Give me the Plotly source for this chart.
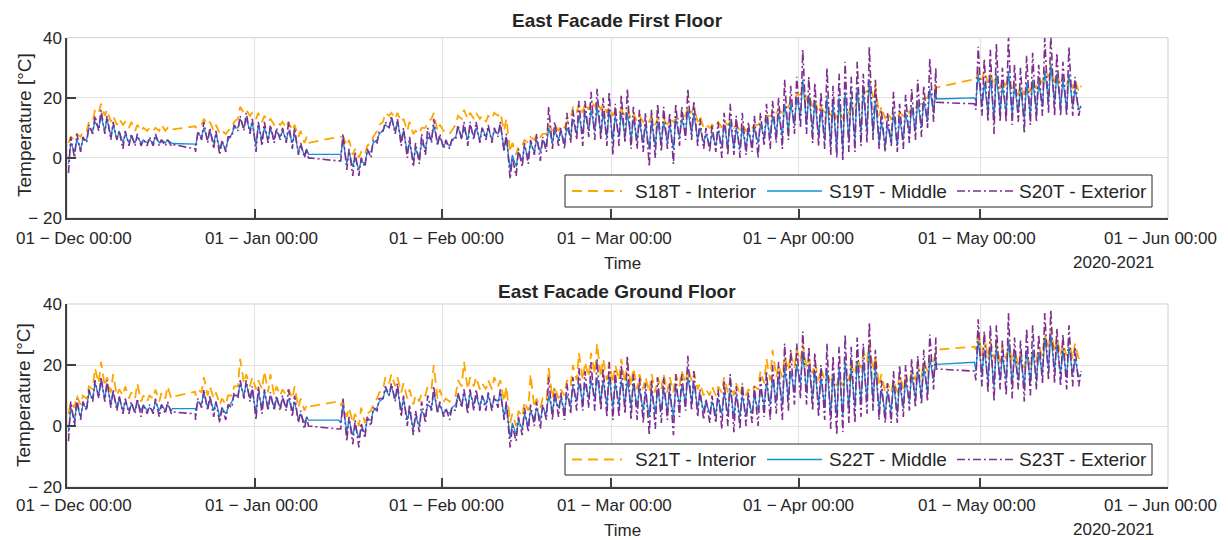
import datetime as dt
import plotly.graph_objects as go

START = dt.datetime(2020, 12, 1)
N = None

# ---------------- East Facade First Floor (daily low / high, deg C) ----------------
TOP_EXT_LO = [-5, 0, 2, 5, 8, 9, 8, 6, 6, 3,
              4, 4, 4, 4, 4, 4, 4, 4, N, N,
              N, 2, 6, 5, 3, 1, 2, 7, 9, 9,
              8, 2, 4, 5, 5, 6, 5, 3, 1, 0,
              N, N, N, N, N, -1, -4, -6, -6, -3,
              0, 5, 9, 10, 8, 4, 0, -3, -2, 1,
              5, 4, 3, 3, 6, 6, 4, 6, 5, 6,
              5, 7, 2, -7, -6, -3, -2, 1, -1, 2,
              3, 4, 3, 5, 6, 4, 7, 6, 6, 4,
              1, 4, 5, 3, 3, 2, -3, 0, 2, 3,
              -2, 4, 6, 6, 4, 3, 2, 2, 0, 1,
              1, 0, 1, 2, 0, 4, 3, 5, 3, 6,
              8, 10, 8, 5, 4, 3, 1, 0, -1, 2,
              2, 4, 5, 6, 3, 2, 4, 2, 3, 5,
              6, 7, 10, 12, N, N, N, N, N, N,
              16, 14, 12, 8, 12, 12, 11, 12, 8, 11,
              12, 14, 15, 14, 14, 14, 14, 14]
TOP_EXT_HI = [7, 8, 7, 11, 14, 16, 14, 12, 9, 9,
              8, 8, 6, 7, 8, 6, 6, 6, N, N,
              N, 9, 12, 10, 9, 6, 7, 11, 14, 15,
              13, 12, 12, 11, 10, 10, 12, 10, 5, 3,
              N, N, N, N, N, 8, 3, 2, 0, 3,
              6, 9, 12, 14, 13, 10, 7, 5, 8, 10,
              13, 8, 6, 6, 11, 12, 12, 12, 10, 11,
              10, 12, 8, 0, 3, 5, 6, 8, 7, 17,
              12, 10, 15, 16, 19, 19, 22, 23, 20, 22,
              18, 21, 23, 17, 16, 15, 16, 18, 17, 15,
              18, 17, 23, 19, 13, 10, 11, 12, 15, 18,
              14, 15, 12, 14, 15, 18, 19, 20, 26, 24,
              27, 36, 27, 25, 22, 30, 24, 28, 32, 27,
              32, 28, 37, 26, 16, 15, 22, 18, 21, 23,
              26, 24, 33, 30, N, N, N, N, N, N,
              37, 33, 36, 38, 30, 41, 31, 30, 34, 35,
              31, 40, 41, 35, 32, 37, 27, 18]
TOP_MID_LO = [-2, 2, 3, 6, 9, 10, 9, 7, 6, 5,
              5, 5, 5, 5, 5, 5, 5, 5, N, N,
              N, 4, 7, 6, 5, 3, 3, 8, 10, 10,
              9, 4, 6, 6, 6, 7, 6, 5, 2, 1,
              N, N, N, N, N, 1, -2, -3, -4, -2,
              2, 6, 9, 10, 9, 6, 2, -1, 0, 3,
              6, 5, 4, 4, 7, 7, 6, 7, 6, 7,
              6, 8, 3, -4, -3, -1, 0, 2, 2, 4,
              5, 6, 5, 7, 8, 8, 9, 9, 8, 7,
              6, 7, 7, 6, 6, 5, 3, 4, 5, 5,
              3, 7, 8, 8, 6, 5, 4, 4, 4, 4,
              3, 3, 3, 4, 5, 7, 7, 8, 7, 9,
              11, 14, 11, 9, 7, 6, 4, 3, 3, 6,
              6, 8, 9, 8, 5, 4, 5, 4, 6, 8,
              9, 10, 12, 15, N, N, N, N, N, N,
              19, 17, 15, 13, 15, 15, 14, 15, 13, 14,
              15, 17, 19, 18, 17, 16, 17, 16]
TOP_MID_HI = [5, 6, 6, 10, 12, 14, 13, 11, 9, 8,
              7, 7, 6, 6, 7, 6, 6, 6, N, N,
              N, 8, 10, 9, 8, 5, 6, 10, 13, 13,
              12, 11, 10, 10, 9, 9, 9, 8, 4, 3,
              N, N, N, N, N, 6, 2, 0, -1, 2,
              5, 8, 11, 13, 12, 9, 5, 3, 5, 7,
              11, 7, 5, 6, 10, 10, 11, 10, 10, 10,
              9, 11, 7, 1, 2, 4, 5, 6, 6, 10,
              9, 9, 10, 13, 14, 15, 16, 17, 15, 16,
              14, 15, 15, 13, 12, 11, 12, 12, 12, 11,
              13, 13, 16, 15, 10, 8, 8, 9, 11, 12,
              10, 10, 9, 10, 11, 13, 14, 15, 18, 18,
              20, 26, 21, 19, 16, 20, 18, 20, 22, 20,
              23, 22, 26, 19, 12, 11, 15, 13, 15, 17,
              19, 19, 23, 23, N, N, N, N, N, N,
              28, 25, 27, 28, 24, 29, 24, 23, 25, 26,
              25, 29, 31, 28, 26, 28, 23, 17]
TOP_INT_LO = [5, 6, 7, 9, 12, 15, 14, 12, 11, 11,
              10, 9, 9, 9, 9, 9, 9, 9, N, N,
              N, 10, 11, 11, 9, 8, 8, 10, 13, 15,
              14, 13, 12, 12, 11, 11, 10, 9, 7, 5,
              N, N, N, N, N, 7, 4, 1, 0, 1,
              5, 9, 12, 14, 13, 12, 9, 8, 8, 10,
              13, 9, 9, 8, 11, 13, 13, 13, 13, 12,
              13, 14, 9, 2, 1, 4, 5, 6, 7, 8,
              9, 9, 10, 13, 15, 15, 16, 17, 16, 15,
              14, 15, 14, 13, 12, 12, 12, 11, 12, 11,
              12, 13, 14, 15, 12, 10, 10, 10, 10, 11,
              10, 9, 9, 10, 11, 12, 14, 15, 15, 17,
              19, 21, 19, 17, 15, 15, 14, 13, 13, 15,
              17, 19, 22, 20, 14, 13, 13, 13, 14, 15,
              16, 18, 20, 22, N, N, N, N, N, N,
              26, 26, 25, 24, 23, 24, 22, 21, 21, 22,
              23, 25, 27, 25, 24, 24, 23, 22]
TOP_INT_HI = [7, 8, 9, 12, 16, 18, 16, 14, 13, 12,
              12, 11, 10, 10, 10, 11, 10, 10, N, N,
              N, 11, 13, 12, 11, 9, 9, 12, 17, 16,
              15, 15, 14, 13, 12, 12, 12, 11, 9, 7,
              N, N, N, N, N, 7, 6, 3, 2, 4,
              7, 11, 15, 15, 15, 13, 12, 9, 10, 12,
              15, 11, 9, 9, 14, 16, 15, 15, 14, 14,
              15, 15, 13, 5, 4, 6, 7, 8, 8, 11,
              11, 11, 12, 17, 18, 18, 19, 19, 18, 17,
              16, 16, 16, 15, 14, 13, 14, 13, 13, 13,
              13, 14, 17, 17, 14, 11, 11, 12, 12, 12,
              11, 11, 10, 11, 12, 14, 15, 16, 17, 19,
              21, 25, 21, 19, 17, 16, 16, 16, 15, 18,
              19, 22, 26, 24, 17, 15, 14, 15, 16, 17,
              18, 20, 22, 24, N, N, N, N, N, N,
              29, 29, 28, 27, 26, 27, 25, 24, 24, 25,
              26, 29, 31, 28, 27, 27, 26, 24]

# ---------------- East Facade Ground Floor (daily low / high, deg C) ----------------
BOT_EXT_LO = [-5, 0, 2, 5, 8, 9, 8, 6, 5, 4,
              4, 4, 3, 4, 4, 3, 4, 4, N, N,
              N, 2, 6, 5, 3, 1, 2, 6, 9, 9,
              8, 2, 4, 5, 5, 5, 5, 3, 1, -1,
              N, N, N, N, N, -1, -5, -6, -7, -4,
              0, 5, 9, 10, 8, 3, 0, -3, -2, 1,
              5, 4, 3, 2, 5, 6, 4, 5, 5, 5,
              5, 6, 2, -7, -5, -3, -2, 0, -1, 2,
              2, 3, 2, 4, 5, 5, 6, 5, 5, 3,
              2, 3, 4, 2, 2, 1, -3, -1, 1, 2,
              -3, 3, 5, 5, 3, 2, 1, 1, -1, 0,
              -2, -1, 0, 1, 0, 3, 2, 4, 2, 5,
              7, 9, 7, 5, 3, 2, -1, -3, -2, 1,
              1, 3, 4, 5, 2, 1, 1, 1, 3, 5,
              6, 7, 8, 12, N, N, N, N, N, N,
              15, 13, 11, 8, 12, 10, 9, 12, 8, 10,
              12, 14, 15, 14, 13, 12, 13, 13]
BOT_EXT_HI = [8, 9, 8, 12, 15, 16, 15, 12, 10, 9,
              8, 9, 7, 7, 9, 7, 8, 6, N, N,
              N, 9, 12, 10, 8, 6, 7, 11, 15, 15,
              13, 13, 12, 11, 10, 10, 12, 10, 5, 3,
              N, N, N, N, N, 9, 3, 2, 1, 3,
              6, 9, 13, 14, 14, 10, 7, 5, 8, 10,
              13, 8, 6, 6, 11, 12, 12, 12, 10, 11,
              10, 12, 8, 0, 3, 6, 7, 8, 7, 16,
              12, 11, 14, 16, 19, 18, 21, 22, 19, 21,
              18, 20, 23, 17, 16, 14, 15, 16, 16, 14,
              17, 17, 23, 18, 12, 9, 10, 12, 15, 17,
              13, 14, 11, 13, 16, 18, 20, 21, 27, 25,
              27, 31, 26, 24, 20, 27, 23, 26, 30, 26,
              29, 27, 34, 25, 15, 14, 18, 20, 20, 22,
              23, 25, 30, 29, N, N, N, N, N, N,
              35, 31, 33, 33, 28, 37, 29, 28, 32, 33,
              30, 37, 38, 32, 30, 33, 26, 18]
BOT_MID_LO = [-2, 2, 3, 6, 9, 10, 9, 7, 6, 5,
              5, 5, 5, 5, 5, 5, 5, 5, N, N,
              N, 5, 7, 6, 5, 3, 4, 8, 10, 10,
              9, 4, 6, 6, 6, 6, 6, 5, 2, 1,
              N, N, N, N, N, 1, -2, -3, -4, -2,
              2, 6, 9, 10, 9, 5, 2, -1, 0, 3,
              6, 5, 4, 4, 7, 7, 6, 7, 6, 7,
              6, 8, 3, -4, -3, -1, 0, 2, 2, 4,
              5, 6, 5, 7, 8, 8, 9, 9, 8, 7,
              6, 7, 7, 6, 6, 5, 3, 4, 5, 5,
              3, 7, 8, 8, 6, 5, 4, 4, 4, 4,
              3, 3, 3, 4, 5, 7, 7, 8, 7, 9,
              11, 14, 11, 9, 7, 6, 4, 3, 3, 6,
              6, 8, 9, 8, 5, 4, 5, 4, 6, 8,
              9, 10, 11, 15, N, N, N, N, N, N,
              18, 17, 15, 13, 15, 15, 14, 15, 13, 14,
              15, 17, 19, 18, 17, 16, 17, 16]
BOT_MID_HI = [6, 7, 7, 11, 14, 15, 14, 11, 9, 8,
              7, 8, 7, 6, 8, 7, 7, 6, N, N,
              N, 8, 11, 9, 8, 6, 6, 10, 14, 14,
              12, 11, 11, 10, 9, 9, 9, 8, 4, 3,
              N, N, N, N, N, 7, 2, 0, -1, 2,
              5, 8, 12, 13, 12, 9, 5, 3, 5, 7,
              11, 7, 5, 6, 10, 11, 11, 10, 10, 10,
              9, 11, 7, 1, 2, 4, 5, 6, 6, 10,
              9, 9, 10, 13, 14, 14, 15, 16, 15, 16,
              14, 15, 15, 14, 12, 11, 12, 12, 12, 11,
              13, 13, 16, 14, 10, 8, 8, 9, 11, 12,
              10, 10, 9, 10, 12, 14, 15, 16, 19, 18,
              20, 24, 20, 18, 16, 19, 17, 19, 21, 19,
              21, 21, 25, 19, 12, 11, 14, 14, 15, 17,
              18, 19, 22, 22, N, N, N, N, N, N,
              28, 25, 26, 26, 23, 28, 23, 23, 25, 25,
              24, 29, 30, 27, 25, 26, 22, 17]
BOT_INT_LO = [4, 6, 7, 9, 12, 14, 13, 11, 10, 10,
              9, 9, 8, 8, 9, 8, 9, 9, N, N,
              N, 10, 11, 10, 9, 7, 7, 10, 13, 14,
              13, 12, 12, 11, 10, 10, 10, 9, 6, 5,
              N, N, N, N, N, 7, 3, 1, 0, 1,
              5, 9, 12, 14, 13, 11, 9, 7, 8, 10,
              12, 9, 8, 8, 10, 13, 12, 13, 12, 12,
              12, 13, 8, 1, 0, 3, 5, 6, 6, 8,
              9, 9, 10, 13, 15, 15, 16, 17, 16, 15,
              14, 15, 14, 13, 12, 12, 11, 11, 12, 11,
              11, 13, 14, 15, 12, 10, 10, 10, 11, 11,
              10, 10, 10, 11, 12, 14, 15, 16, 16, 18,
              19, 21, 19, 17, 15, 15, 14, 13, 13, 15,
              17, 19, 21, 18, 13, 11, 11, 11, 12, 14,
              15, 16, 18, 21, N, N, N, N, N, N,
              25, 23, 22, 22, 21, 22, 21, 20, 19, 20,
              21, 23, 25, 24, 23, 23, 22, 22]
BOT_INT_HI = [8, 10, 10, 13, 19, 21, 16, 17, 12, 13,
              11, 14, 10, 10, 12, 11, 13, 10, N, N,
              N, 12, 16, 13, 11, 9, 10, 13, 22, 17,
              16, 15, 18, 17, 13, 12, 12, 13, 9, 7,
              N, N, N, N, N, 8, 6, 4, 6, 4,
              7, 11, 16, 17, 16, 14, 12, 10, 11, 13,
              20, 12, 9, 9, 15, 21, 16, 16, 14, 15,
              16, 15, 13, 4, 5, 8, 17, 9, 9, 19,
              13, 12, 15, 20, 24, 21, 24, 27, 22, 21,
              20, 22, 21, 19, 17, 16, 17, 16, 17, 16,
              17, 18, 19, 18, 14, 12, 13, 13, 16, 15,
              14, 13, 12, 13, 18, 22, 25, 20, 23, 24,
              25, 27, 22, 21, 19, 17, 17, 16, 16, 20,
              22, 24, 27, 23, 17, 14, 15, 17, 16, 18,
              20, 21, 23, 24, N, N, N, N, N, N,
              31, 30, 28, 27, 26, 28, 25, 24, 23, 24,
              26, 30, 32, 29, 27, 28, 27, 24]

# Logging gaps (start, end) and the values at either side of each gap
GAP_START = ["2020-12-18 10:00", "2021-01-09 22:00", "2021-04-23 17:00"]
GAP_END = ["2020-12-22 05:00", "2021-01-14 22:00", "2021-04-30 00:00"]
TOP_EXT_GAP = [4.5, 3.0, 0.0, -1.0, 18.5, 18.0]
TOP_MID_GAP = [4.8, 4.6, 1.2, 1.2, 19.6, 20.0]
TOP_INT_GAP = [9.5, 10.5, 5.0, 7.0, 23.4, 26.2]
BOT_EXT_GAP = [4.6, 4.0, 0.0, -1.0, 18.7, 18.0]
BOT_MID_GAP = [5.7, 5.7, 1.9, 1.9, 20.2, 20.9]
BOT_INT_GAP = [9.6, 11.2, 6.3, 8.1, 25.0, 26.0]

MONTH_TICKS = ["2020-12-01", "2021-01-01", "2021-02-01", "2021-03-01",
               "2021-04-01", "2021-05-01", "2021-06-01"]
MONTH_LABELS = ["01 \u2212 Dec 00:00", "01 \u2212 Jan 00:00", "01 \u2212 Feb 00:00",
                "01 \u2212 Mar 00:00", "01 \u2212 Apr 00:00", "01 \u2212 May 00:00",
                "01 \u2212 Jun 00:00"]
LABEL_SHIFT = [7, 7, 4, 3, 0, -3, -8]
Y_TICKS = [-20, 0, 20, 40]
Y_LABELS = ["\u2212 20", "0", "20", "40"]

TOP_NAMES = ["S18T - Interior", "S19T - Middle", "S20T - Exterior"]
BOT_NAMES = ["S21T - Interior", "S22T - Middle", "S23T - Exterior"]

ORANGE = "#FFA500"
BLUE = "#1590D5"
PURPLE = "#7E2F8E"
DARK = "#262626"
FONT = "Liberation Sans, Arial, sans-serif"

W, H = 1228, 540


def build(lo, hi, gapvals):
    gaps = [(dt.datetime.fromisoformat(s), dt.datetime.fromisoformat(e))
            for s, e in zip(GAP_START, GAP_END)]
    pts = []
    for d, (a, b) in enumerate(zip(lo, hi)):
        if a is not None:
            pts.append((START + dt.timedelta(days=d, hours=6), a))
        if b is not None:
            pts.append((START + dt.timedelta(days=d, hours=15), b))
    pts = [p for p in pts if not any(s < p[0] < e for s, e in gaps)]
    for i, (s, e) in enumerate(gaps):
        pts.append((s, gapvals[2 * i]))
        pts.append((e, gapvals[2 * i + 1]))
    pts.sort(key=lambda p: p[0])
    return [p[0] for p in pts], [p[1] for p in pts]


fig = go.Figure()

panels = [
    ("x", "y", TOP_NAMES,
     [(TOP_INT_LO, TOP_INT_HI, TOP_INT_GAP), (TOP_MID_LO, TOP_MID_HI, TOP_MID_GAP),
      (TOP_EXT_LO, TOP_EXT_HI, TOP_EXT_GAP)]),
    ("x2", "y2", BOT_NAMES,
     [(BOT_INT_LO, BOT_INT_HI, BOT_INT_GAP), (BOT_MID_LO, BOT_MID_HI, BOT_MID_GAP),
      (BOT_EXT_LO, BOT_EXT_HI, BOT_EXT_GAP)]),
]
ORANGE_DASH = "10px,6px"
PURPLE_DASH = "8px,3px,2px,3px"
styles = [dict(color=ORANGE, width=1.8, dash=ORANGE_DASH),
          dict(color=BLUE, width=1.3),
          dict(color=PURPLE, width=1.6, dash=PURPLE_DASH)]

for xa, ya, names, series in panels:
    for name, (lo, hi, gv), st in zip(names, series, styles):
        xs, ys = build(lo, hi, gv)
        fig.add_trace(go.Scatter(x=xs, y=ys, mode="lines", name=name, line=st,
                                 xaxis=xa, yaxis=ya, showlegend=False))

x0, x1 = 67 / W, 1168 / W
axis_common = dict(showgrid=True, gridcolor="#e2e2e2", gridwidth=1, zeroline=False,
                   showline=True, linecolor="#404040", linewidth=1.5, ticks="inside",
                   ticklen=9, tickwidth=1.5, tickcolor="#404040", automargin=False,
                   tickfont=dict(family=FONT, size=17, color=DARK))
xcommon = dict(axis_common, type="date", range=["2020-12-01", "2021-06-01"],
               tickmode="array", tickvals=MONTH_TICKS, ticktext=MONTH_LABELS,
               domain=[x0, x1], showticklabels=False)
ycommon = dict(axis_common, range=[-20, 40], tickmode="array", tickvals=Y_TICKS,
               ticktext=Y_LABELS)

fig.update_layout(
    width=W, height=H, margin=dict(l=0, r=0, t=0, b=0, autoexpand=False),
    paper_bgcolor="white", plot_bgcolor="white",
    font=dict(family=FONT, color=DARK),
    xaxis=dict(xcommon, anchor="y"),
    yaxis=dict(ycommon, anchor="x", domain=[(H - 218) / H, (H - 37.7) / H]),
    xaxis2=dict(xcommon, anchor="y2"),
    yaxis2=dict(ycommon, anchor="x2", domain=[(H - 487) / H, (H - 304) / H]),
    showlegend=False,
)

shapes = []
ann = []
for xr, yr in [("x domain", "y domain"), ("x2 domain", "y2 domain")]:
    shapes.append(dict(type="rect", xref=xr, yref=yr, x0=0, x1=1, y0=0, y1=1,
                       line=dict(color="#d0d0d0", width=1), layer="below"))

# legend boxes (one per panel): box, line samples, labels
LEG_BOX_X = (565, 1152)
LEG_SAMPLES = [(572, 622), (767, 822), (957, 1013)]
LEG_TEXT_X = [633, 827, 1017]
for names, (by0, by1) in [(TOP_NAMES, (175, 207)), (BOT_NAMES, (444, 475))]:
    yc = (by0 + by1) / 2
    shapes.append(dict(type="rect", xref="paper", yref="paper",
                       x0=LEG_BOX_X[0] / W, x1=LEG_BOX_X[1] / W,
                       y0=(H - by1) / H, y1=(H - by0) / H,
                       fillcolor="white", line=dict(color=DARK, width=1), layer="above"))
    for (sx0, sx1), st, tx, name in zip(LEG_SAMPLES, styles, LEG_TEXT_X, names):
        line = dict(color=st["color"], width=st["width"])
        if "dash" in st:
            line["dash"] = st["dash"]
        shapes.append(dict(type="line", xref="paper", yref="paper", x0=sx0 / W, x1=sx1 / W,
                           y0=(H - yc) / H, y1=(H - yc) / H, line=line, layer="above"))
        ann.append(dict(text=name, x=tx / W, y=(H - yc) / H, xref="paper", yref="paper",
                        showarrow=False, xanchor="left", yanchor="middle",
                        font=dict(family=FONT, size=19, color=DARK)))
fig.update_layout(shapes=shapes)

for xr, ly in [("x", 238), ("x2", 505)]:
    for tv, tl, sh in zip(MONTH_TICKS, MONTH_LABELS, LABEL_SHIFT):
        ann.append(dict(text=tl, x=tv, y=(H - ly) / H, xref=xr, yref="paper",
                        showarrow=False, xanchor="center", yanchor="middle", xshift=sh,
                        font=dict(family=FONT, size=17, color=DARK)))

for title, ty, tlab_y, ylab_y in [("East Facade First Floor", 21, 263, 125),
                                  ("East Facade Ground Floor", 291, 530, 395)]:
    ann.append(dict(text="<b>" + title + "</b>", x=617 / W, y=(H - ty) / H, xref="paper",
                    yref="paper", showarrow=False, xanchor="center", yanchor="middle",
                    font=dict(family=FONT, size=19, color=DARK)))
    ann.append(dict(text="Time", x=622 / W, y=(H - tlab_y) / H, xref="paper", yref="paper",
                    showarrow=False, xanchor="center", yanchor="middle",
                    font=dict(family=FONT, size=17, color=DARK)))
    ann.append(dict(text="2020-2021", x=1113 / W, y=(H - tlab_y + 1) / H, xref="paper",
                    yref="paper", showarrow=False, xanchor="center", yanchor="middle",
                    font=dict(family=FONT, size=17, color=DARK)))
    ann.append(dict(text="Temperature [\u00b0C]", x=24 / W, y=(H - ylab_y) / H,
                    xref="paper", yref="paper", showarrow=False, textangle=-90,
                    xanchor="center", yanchor="middle",
                    font=dict(family=FONT, size=19, color=DARK)))
fig.update_layout(annotations=ann)

fig.write_html("out.html")
